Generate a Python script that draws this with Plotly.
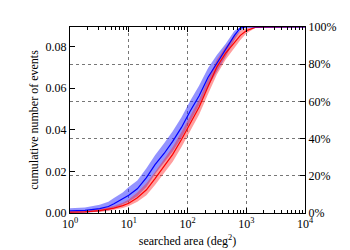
import plotly.graph_objects as go

# searched area (deg^2)
area = [1, 1.8, 3.2, 4.5, 5.6, 7.9, 10, 14, 20, 28, 40, 56, 79, 112, 158, 224, 316, 447, 631, 794, 1000, 1413, 10000]

# cumulative fraction of events (percent, right axis)
blue = [1.2, 1.4, 2.4, 3.5, 5.0, 7.5, 9.5, 13, 19, 26, 32, 38.5, 46, 55, 63, 73, 80.5, 87.5, 95.5, 99.5, 100, 100, 100]
blue_lo = [0, 0.2, 0.8, 1.5, 2.5, 4.5, 6, 9, 14, 21, 27, 33, 40.5, 49.5, 58, 68, 76, 84, 93, 98, 100, 100, 100]
blue_hi = [2.6, 3, 4.5, 6, 8, 11, 14, 17.5, 24, 31, 37.5, 44, 51.5, 60.5, 68.5, 78, 85, 91, 98, 100, 100, 100, 100]

red = [0.5, 0.6, 1.3, 2.0, 2.6, 4.0, 5.2, 8.2, 12.5, 18.5, 25, 31.5, 39.5, 48.5, 57, 68, 78.5, 86, 92, 95.5, 98, 99.8, 100]
red_lo = [0.1, 0.2, 0.6, 1.1, 1.6, 2.7, 3.7, 6.0, 9.5, 15, 21.5, 27.5, 35.5, 44.5, 53, 64, 74.5, 82.5, 89, 93, 96.5, 99.5, 100]
red_hi = [1.0, 1.2, 2.2, 3.1, 3.8, 5.5, 7.2, 11, 16, 22, 29, 35.5, 43.5, 52.5, 61, 72, 82.5, 89.5, 95, 98, 99.5, 100, 100]

x_ticks = [1, 10, 100, 1000, 10000]
x_text = ["10<sup>0</sup>", "10<sup>1</sup>", "10<sup>2</sup>", "10<sup>3</sup>", "10<sup>4</sup>"]
x_minor = [m * d for d in (1, 10, 100, 1000) for m in range(2, 10)]
left_ticks = [0, 0.02, 0.04, 0.06, 0.08]
left_text = ["0.00", "0.02", "0.04", "0.06", "0.08"]
left_max = 0.0893
right_ticks = [0, 20, 40, 60, 80, 100]
right_text = ["0%", "20%", "40%", "60%", "80%", "100%"]

FONT = "Liberation Serif, Times New Roman, Times, serif"
fig = go.Figure()

# dummy trace to anchor the left axis
fig.add_trace(go.Scatter(x=[1], y=[0], mode="markers", marker=dict(size=1, opacity=0),
                         showlegend=False, hoverinfo="skip", yaxis="y"))

def band(lo, hi, color):
    fig.add_trace(go.Scatter(x=area, y=lo, mode="lines", line=dict(width=0), showlegend=False,
                             hoverinfo="skip", yaxis="y2"))
    fig.add_trace(go.Scatter(x=area, y=hi, mode="lines", line=dict(width=0), fill="tonexty",
                             fillcolor=color, showlegend=False, hoverinfo="skip", yaxis="y2"))

band(blue_lo, blue_hi, "rgba(40,40,255,0.5)")
band(red_lo, red_hi, "rgba(255,40,40,0.45)")
fig.add_trace(go.Scatter(x=area, y=red, mode="lines", line=dict(color="#ff0000", width=1.2),
                         showlegend=False, yaxis="y2"))
fig.add_trace(go.Scatter(x=area, y=blue, mode="lines", line=dict(color="#0000ff", width=1.2),
                         showlegend=False, yaxis="y2"))

fig.update_layout(
    width=350, height=250,
    margin=dict(l=62, r=53, t=13, b=45),
    paper_bgcolor="white", plot_bgcolor="white",
    font=dict(family=FONT, size=12, color="black"),
    showlegend=False,
    xaxis=dict(
        type="log", range=[0, 4],
        tickmode="array", tickvals=x_ticks, ticktext=x_text,
        ticks="inside", ticklen=5, tickcolor="black",
        showline=True, linecolor="black", linewidth=1, mirror="ticks",
        showgrid=True, gridcolor="#777777", griddash="dot", gridwidth=1,
        minor=dict(tickmode="array", tickvals=x_minor, ticks="inside", ticklen=3,
                   tickcolor="black", showgrid=False),
        zeroline=False,
        tickfont=dict(family=FONT, size=12),
        title=dict(text="searched area (deg<sup>2</sup>)", font=dict(family=FONT, size=12), standoff=6),
    ),
    yaxis=dict(
        range=[0, left_max],
        tickmode="array", tickvals=left_ticks, ticktext=left_text,
        ticks="inside", ticklen=5, tickcolor="black",
        showline=True, linecolor="black", linewidth=1,
        showgrid=False, zeroline=False,
        tickfont=dict(family=FONT, size=12),
        title=dict(text="cumulative number of events", font=dict(family=FONT, size=12), standoff=4),
    ),
    yaxis2=dict(
        overlaying="y", side="right", range=[0, 100],
        tickmode="array", tickvals=right_ticks, ticktext=right_text,
        ticks="inside", ticklen=5, tickcolor="black",
        showline=True, linecolor="black", linewidth=1,
        showgrid=True, gridcolor="#777777", griddash="dot", gridwidth=1,
        zeroline=False,
        tickfont=dict(family=FONT, size=12),
    ),
)

fig.write_html("out.html")
